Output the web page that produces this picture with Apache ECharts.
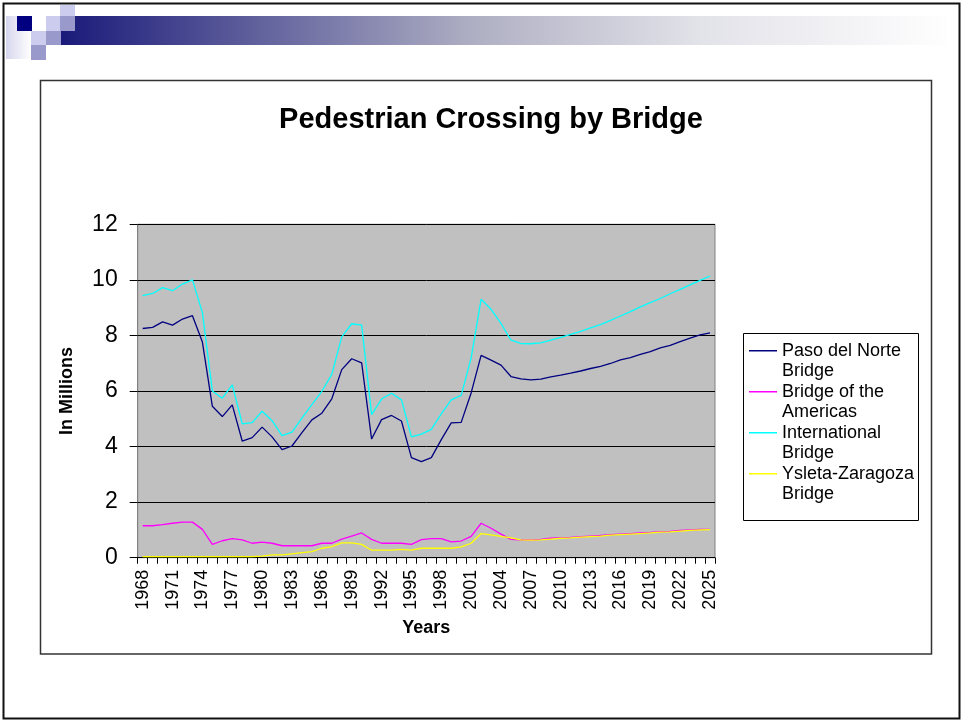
<!DOCTYPE html>
<html>
<head>
<meta charset="utf-8">
<script src="https://cdn.jsdelivr.net/npm/echarts@6/dist/echarts.min.js"></script>
<style>
html,body{margin:0;padding:0;background:#fff;}
#chart{width:961px;height:721px;}
</style>
</head>
<body>
<div id="chart"></div>
<script>
var years = [];
for (var y = 1968; y <= 2025; y++) years.push(String(y));

var pasoDelNorte = [8.25,8.29,8.49,8.37,8.59,8.71,7.76,5.45,5.08,5.50,4.20,4.32,4.70,4.35,3.89,4.02,4.50,4.96,5.20,5.72,
  6.77,7.16,7.01,4.27,4.97,5.12,4.92,3.60,3.46,3.60,4.25,4.85,4.87,5.93,7.28,7.11,6.93,6.52,6.44,6.40,
  6.43,6.51,6.57,6.64,6.72,6.81,6.89,6.99,7.12,7.20,7.32,7.42,7.55,7.64,7.78,7.90,8.02,8.09];
var bridgeOfAmericas = [1.15,1.15,1.19,1.24,1.28,1.28,1.02,0.48,0.61,0.69,0.64,0.52,0.56,0.52,0.43,0.43,0.43,0.43,0.52,0.52,
  0.67,0.78,0.89,0.66,0.52,0.52,0.52,0.48,0.65,0.69,0.69,0.57,0.60,0.77,1.24,1.06,0.85,0.66,0.64,0.64,
  0.66,0.70,0.72,0.73,0.76,0.78,0.80,0.83,0.85,0.87,0.89,0.91,0.94,0.95,0.98,1.00,1.02,1.02];
var international = [9.43,9.51,9.72,9.61,9.85,10.0,8.82,6.00,5.74,6.22,4.82,4.86,5.27,4.93,4.39,4.52,5.02,5.51,5.99,6.60,
  7.95,8.42,8.37,5.15,5.71,5.92,5.68,4.35,4.45,4.62,5.18,5.68,5.84,7.19,9.30,8.94,8.43,7.83,7.71,7.70,
  7.73,7.83,7.93,8.04,8.15,8.27,8.39,8.54,8.70,8.86,9.03,9.18,9.33,9.50,9.66,9.82,9.98,10.14];
var ysletaZaragoza = [0.04,0.04,0.04,0.04,0.04,0.04,0.04,0.04,0.04,0.04,0.04,0.04,0.06,0.10,0.10,0.14,0.18,0.22,0.34,0.40,
  0.53,0.53,0.48,0.27,0.27,0.27,0.30,0.27,0.34,0.34,0.34,0.34,0.39,0.52,0.87,0.82,0.77,0.71,0.64,0.63,
  0.64,0.67,0.70,0.71,0.74,0.76,0.78,0.81,0.83,0.85,0.87,0.89,0.92,0.93,0.96,0.98,1.00,1.01];

var seriesNames = ['Paso del Norte Bridge','Bridge of the Americas','International Bridge','Ysleta-Zaragoza Bridge'];
var legendLabels = {
  'Paso del Norte Bridge':'Paso del Norte\nBridge',
  'Bridge of the Americas':'Bridge of the\nAmericas',
  'International Bridge':'International\nBridge',
  'Ysleta-Zaragoza Bridge':'Ysleta-Zaragoza\nBridge'
};
var seriesColors = ['#000080','#FF00FF','#00FFFF','#FFFF00'];
var seriesData = [pasoDelNorte, bridgeOfAmericas, international, ysletaZaragoza];
var yTicks = {min:0, max:12, interval:2};

var FONT = '"Liberation Sans", Arial, sans-serif';
var chart = echarts.init(document.getElementById('chart'), null, {renderer:'canvas'});

var option = {
  backgroundColor:'#ffffff',
  animation:false,
  textStyle:{fontFamily:FONT},
  title:{
    text:'Pedestrian Crossing by Bridge',
    left:486, top:100, textAlign:'center',
    textStyle:{fontFamily:FONT, fontSize:29, fontWeight:'bold', color:'#000'}
  },
  grid:{
    left:137.7, top:224.3, right:246, bottom:163.3,
    show:true, backgroundColor:'#C0C0C0', borderColor:'#808080', borderWidth:1,
    containLabel:false
  },
  legend:{
    orient:'vertical',
    left:749, top:320,
    data:seriesNames,
    icon:'rect',
    itemWidth:28, itemHeight:1.5,
    itemGap:-20.5,
    padding:0,
    formatter:function(n){return '\n' + legendLabels[n];},
    textStyle:{fontFamily:FONT, fontSize:18, color:'#000', lineHeight:20.5}
  },
  xAxis:{
    type:'category',
    data:years,
    boundaryGap:true,
    name:'Years',
    nameLocation:'middle',
    nameGap:61,
    nameTextStyle:{fontFamily:FONT, fontSize:18, fontWeight:'bold', color:'#000'},
    axisLine:{show:true, lineStyle:{color:'#000', width:1}},
    axisTick:{show:true, interval:0, length:6, alignWithLabel:false, lineStyle:{color:'#000'}},
    axisLabel:{interval:2, rotate:90, fontSize:18, margin:12, color:'#000', fontFamily:FONT},
    splitLine:{show:false}
  },
  yAxis:{
    type:'value',
    min:yTicks.min, max:yTicks.max, interval:yTicks.interval,
    name:'In Millions',
    nameLocation:'middle',
    nameGap:62,
    nameTextStyle:{fontFamily:FONT, fontSize:18, fontWeight:'bold', color:'#000'},
    axisLine:{show:true, lineStyle:{color:'#808080', width:1}},
    axisTick:{show:true, length:8, lineStyle:{color:'#000'}},
    axisLabel:{fontSize:23, margin:20, color:'#000', fontFamily:FONT},
    splitLine:{show:true, lineStyle:{color:'#000', width:1}}
  },
  series: seriesNames.map(function(n,i){
    return {
      name:n, type:'line', data:seriesData[i],
      symbol:'none', showSymbol:false,
      itemStyle:{color:seriesColors[i]},
      lineStyle:{color:seriesColors[i], width:1.3},
      z:2+i
    };
  }),
  graphic:[
    {type:'rect', silent:true, z:-10, shape:{x:3.5,y:3.5,width:956,height:715}, style:{fill:'none', stroke:'#111', lineWidth:2}},
    {type:'rect', silent:true, shape:{x:61,y:16,width:886,height:29},
      style:{fill:new echarts.graphic.LinearGradient(0,0,1,0,[
        {offset:0,color:'#1a1a7a'},{offset:0.47,color:'#b0b0c4'},{offset:0.72,color:'#e2e2e9'},{offset:1,color:'#fefefe'}])}},
    {type:'rect', silent:true, shape:{x:6,y:16,width:25,height:43},
      style:{fill:new echarts.graphic.LinearGradient(0,0,1,0,[{offset:0,color:'#d6d6ee'},{offset:1,color:'#ffffff'}])}},
    {type:'rect', silent:true, shape:{x:17,y:16,width:15,height:15}, style:{fill:'#000080'}},
    {type:'rect', silent:true, shape:{x:46,y:16,width:14,height:15}, style:{fill:'#ccccee'}},
    {type:'rect', silent:true, shape:{x:60,y:5,width:15,height:11}, style:{fill:'#ccccee'}},
    {type:'rect', silent:true, shape:{x:60,y:16,width:15,height:15}, style:{fill:'#9999cc'}},
    {type:'rect', silent:true, shape:{x:31,y:31,width:15,height:14}, style:{fill:'#ccccee'}},
    {type:'rect', silent:true, shape:{x:46,y:31,width:15,height:14}, style:{fill:'#9999cc'}},
    {type:'rect', silent:true, shape:{x:31,y:45,width:15,height:15}, style:{fill:'#9999cc'}},
    {type:'rect', silent:true, z:-5, shape:{x:40.5,y:80.5,width:891,height:573.5}, style:{fill:'none', stroke:'#333', lineWidth:1.5}},
    {type:'rect', silent:true, shape:{x:743.5,y:333.5,width:175,height:187}, style:{fill:'none', stroke:'#000', lineWidth:1}}
  ]
};
chart.setOption(option);
</script>
</body>
</html>
